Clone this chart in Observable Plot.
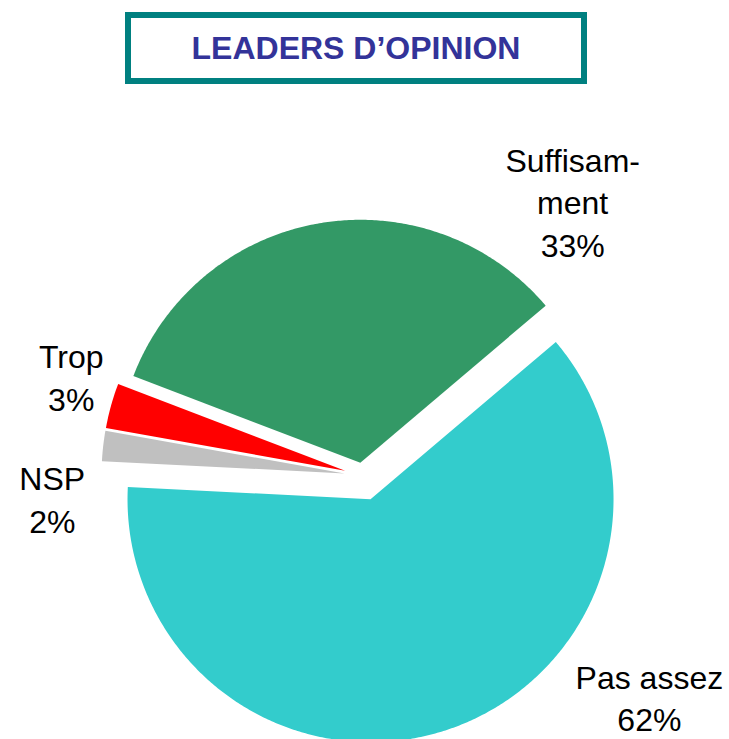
<!DOCTYPE html>
<html>
<head>
<meta charset="utf-8">
<script src="https://cdn.jsdelivr.net/npm/d3@7"></script>
<script src="https://cdn.jsdelivr.net/npm/@observablehq/plot@0.6"></script>
<style>
  html, body { margin: 0; padding: 0; background: #fff; }
  #wrap { position: relative; width: 729px; height: 739px; overflow: hidden; }
  #title {
    position: absolute; left: 125px; top: 12px; width: 462px; height: 72px;
    box-sizing: border-box; border: 6px solid #008080;
    display: flex; align-items: center; justify-content: center;
    font-family: "Liberation Sans", Arial, sans-serif; font-weight: bold;
    font-size: 32px; color: #333399; background: #fff;
  }
  #chart { position: absolute; left: 0; top: 0; }
</style>
</head>
<body>
<div id="wrap">
  <div id="chart"></div>
  <div id="title">LEADERS D’OPINION</div>
</div>
<script>
// ---- data ----
const categories = ["Pas assez", "NSP", "Trop", "Suffisamment"];
const values = [62, 2, 3, 33];
const labels = ["Pas assez\n62%", "NSP\n2%", "Trop\n3%", "Suffisam-\nment\n33%"];
const colors = ["#33CCCC", "#C0C0C0", "#FF0000", "#339966"];

// ---- layout ----
const W = 729, H = 739;
const cx = 362, cy = 475, R = 243;       // pie centre and radius (px)
const startDeg = 49.7;                    // first slice starts here (clockwise from 12 o'clock)
const explode = [0.103, 0.074, 0.074, 0.053]; // explode distance as fraction of radius
const labelPolar = [[127.6, 1.49], [265.9, 1.28], [288.9, 1.267], [37.4, 1.424]]; // [angle deg, radius factor]

const rad = d => d * Math.PI / 180;
const pie = d3.pie().sort(null).value(d => d.value)
  .startAngle(rad(startDeg)).endAngle(rad(startDeg + 360));
const slices = pie(categories.map((name, i) => ({name, value: values[i], i})));

const pts = [];
for (const s of slices) {
  const i = s.data.i;
  const mid = (s.startAngle + s.endAngle) / 2;
  const ox = Math.sin(mid) * explode[i], oy = Math.cos(mid) * explode[i];
  pts.push({name: s.data.name, x: ox, y: oy});
  const n = Math.max(8, Math.ceil((s.endAngle - s.startAngle) / rad(0.5)));
  for (let k = 0; k <= n; k++) {
    const a = s.startAngle + (s.endAngle - s.startAngle) * k / n;
    pts.push({name: s.data.name, x: ox + Math.sin(a), y: oy + Math.cos(a)});
  }
  pts.push({name: s.data.name, x: ox, y: oy});
}

const labelData = categories.map((name, i) => {
  const [deg, f] = labelPolar[i];
  return {name, text: labels[i], x: Math.sin(rad(deg)) * f, y: Math.cos(rad(deg)) * f};
});

const chart = Plot.plot({
  width: W, height: H,
  margin: 0,
  x: {type: "linear", domain: [-1, 1], range: [cx - R, cx + R], axis: null},
  y: {type: "linear", domain: [-1, 1], range: [cy + R, cy - R], axis: null},
  color: {domain: categories, range: colors},
  style: {fontFamily: "'Liberation Sans', Arial, sans-serif", background: "#fff"},
  marks: [
    Plot.line(pts, {x: "x", y: "y", z: "name", fill: "name", stroke: "none", curve: "linear"}),
    Plot.text(labelData, {
      x: "x", y: "y", text: "text",
      fontSize: 32, lineHeight: 1.33, fill: "#000",
      textAnchor: "middle", lineAnchor: "middle"
    })
  ]
});
document.getElementById("chart").appendChild(chart);
</script>
</body>
</html>
